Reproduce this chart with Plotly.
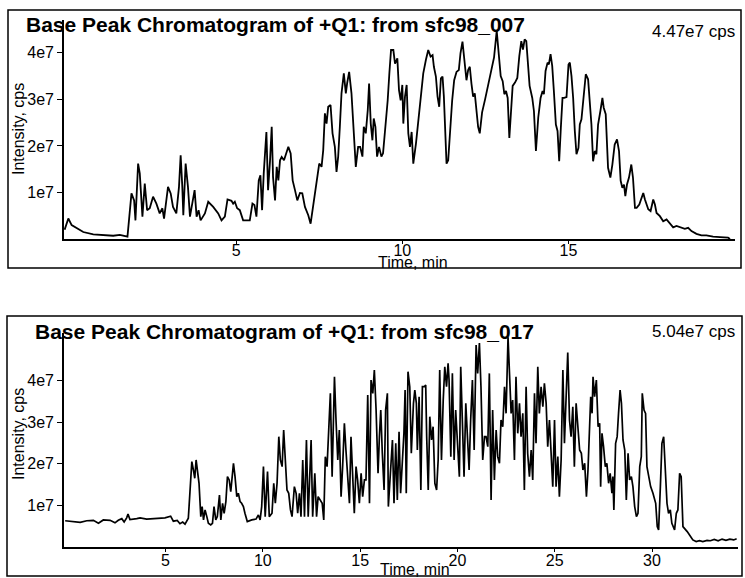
import plotly.graph_objects as go

# ---------------- data (time in min, intensity in units of 1e7 cps) ----------------
top_time = [-0.16,-0.05,0.05,0.15,0.4,0.7,1.0,1.3,1.5,1.7,1.73,1.85,1.93,1.97,2.05,2.1,2.18,2.25,2.32,2.4,2.5,2.6,2.7,2.78,2.83,2.95,3.03,3.1,3.2,3.28,3.33,3.38,3.41,3.48,3.55,3.61,3.69,3.75,3.81,3.87,3.93,4.0,4.06,4.16,4.31,4.46,4.56,4.66,4.74,4.86,4.91,4.96,5.03,5.11,5.21,5.41,5.49,5.55,5.61,5.68,5.73,5.78,5.83,5.91,5.96,6.02,6.07,6.11,6.17,6.22,6.27,6.32,6.37,6.44,6.5,6.57,6.64,6.7,6.77,6.84,6.92,6.99,7.07,7.17,7.24,7.32,7.37,7.44,7.5,7.57,7.62,7.67,7.72,7.77,7.84,7.9,7.97,8.02,8.07,8.12,8.17,8.24,8.3,8.34,8.4,8.47,8.54,8.6,8.67,8.73,8.8,8.84,8.9,8.96,9.0,9.05,9.1,9.14,9.19,9.24,9.3,9.37,9.42,9.5,9.56,9.61,9.66,9.73,9.78,9.81,9.85,9.9,9.95,10.0,10.03,10.08,10.13,10.18,10.23,10.28,10.33,10.41,10.48,10.56,10.63,10.71,10.78,10.85,10.91,10.95,11.01,11.06,11.11,11.16,11.21,11.25,11.3,11.33,11.38,11.43,11.5,11.56,11.63,11.7,11.75,11.81,11.86,11.93,11.98,12.03,12.08,12.13,12.18,12.23,12.28,12.33,12.4,12.49,12.59,12.69,12.76,12.84,12.89,12.96,13.02,13.07,13.12,13.17,13.22,13.27,13.32,13.39,13.46,13.52,13.58,13.63,13.68,13.73,13.78,13.83,13.91,13.96,14.02,14.09,14.16,14.22,14.26,14.31,14.37,14.41,14.46,14.51,14.56,14.62,14.67,14.72,14.77,14.82,14.87,14.94,15.0,15.04,15.09,15.14,15.19,15.24,15.3,15.34,15.39,15.45,15.52,15.59,15.64,15.69,15.74,15.79,15.84,15.89,15.96,16.02,16.06,16.12,16.19,16.26,16.32,16.39,16.46,16.52,16.57,16.62,16.67,16.71,16.76,16.82,16.89,16.94,17.0,17.05,17.13,17.2,17.25,17.3,17.4,17.47,17.55,17.6,17.65,17.75,17.85,17.95,18.03,18.15,18.25,18.4,18.5,18.6,18.7,18.85,19.0,19.15,19.35,19.56,19.8,19.86]
top_int = [0.20,0.44,0.30,0.26,0.15,0.10,0.08,0.07,0.09,0.06,0.05,0.98,0.83,0.40,1.62,1.41,0.48,1.19,0.62,0.66,0.91,0.76,0.55,0.66,0.44,1.12,0.98,0.69,0.55,1.12,1.80,1.12,0.51,1.62,1.12,0.48,0.76,1.05,0.48,0.62,0.40,0.48,0.55,0.80,0.69,0.55,0.40,0.48,0.85,0.82,0.76,0.80,0.66,0.62,0.40,0.40,0.76,0.73,0.48,1.26,1.37,0.62,1.41,2.30,1.05,1.69,2.41,1.33,0.83,1.55,1.26,1.69,1.76,1.69,1.83,1.98,1.84,1.26,1.05,0.83,0.99,0.98,0.69,0.51,0.33,0.76,0.98,1.33,1.62,1.55,1.91,2.70,2.48,2.84,2.88,2.27,1.98,1.44,1.77,2.41,3.13,3.56,3.13,3.35,3.59,3.13,2.34,1.55,1.98,1.98,1.77,2.41,2.27,2.77,3.34,2.48,2.12,2.59,2.41,1.77,1.98,1.77,1.84,2.41,2.98,3.56,4.06,4.06,3.77,3.81,3.88,3.2,2.98,3.31,2.48,3.06,3.31,2.27,1.98,2.30,1.62,2.05,2.56,3.13,3.56,3.85,4.06,3.92,3.95,3.70,3.49,3.06,2.84,3.45,3.49,3.06,2.27,1.62,1.69,2.27,2.98,3.41,3.59,3.63,3.99,4.24,3.85,3.41,3.63,3.70,3.34,3.06,3.13,2.70,2.41,2.27,2.72,3.0,3.36,3.73,3.9,4.47,4.1,3.5,3.39,3.11,3.18,3.03,2.17,2.68,3.29,3.36,3.46,3.93,4.25,4.07,4.29,4.25,3.75,3.29,3.03,2.75,1.89,2.61,3.03,3.18,3.11,3.61,3.79,3.75,3.97,3.72,3.18,2.46,2.32,1.67,2.39,3.03,3.03,3.05,3.75,3.79,3.5,3.03,2.32,1.82,1.96,2.46,2.57,3.03,3.54,3.43,3.03,2.46,1.67,1.89,1.82,2.46,2.75,3.03,2.82,2.68,1.53,1.32,1.6,2.03,2.14,1.89,1.25,1.1,1.17,0.92,1.17,1.32,1.6,1.32,0.67,0.67,0.74,0.92,0.99,0.85,0.64,0.6,0.85,0.74,0.56,0.49,0.38,0.42,0.35,0.25,0.28,0.25,0.22,0.24,0.17,0.11,0.08,0.08,0.05,0.04,0.03,0.0]

bot_time = [-0.16,0.18,0.61,0.95,1.29,1.55,1.8,2.15,2.4,2.57,2.75,2.87,3.0,3.07,3.17,3.52,3.69,4.03,4.55,4.97,5.26,5.4,5.6,5.74,5.88,6.0,6.17,
            6.26,6.35,6.43,6.5,6.57,6.64,6.72,6.81,6.88,6.95,7.03,7.12,7.2,7.32,7.41,7.49,7.58,7.66,7.77,7.84,7.93,8.01,8.1,8.18,8.27,8.35,8.44,8.49,8.57,8.66,8.74,8.83,8.91,9.0,9.08,9.2,9.43,9.65,9.77,9.86,9.94,10.03,10.12,10.24,10.33,
            10.47,10.56,10.64,10.73,10.82,10.9,10.99,11.07,11.16,11.24,11.33,11.42,11.5,11.62,11.71,11.79,11.88,11.96,12.05,12.14,12.24,12.33,12.48,12.56,12.67,12.76,12.84,12.96,13.05,13.13,13.21,13.3,13.39,13.47,13.56,13.68,13.76,13.85,13.93,14.02,14.1,14.19,14.27,14.36,14.45,14.53,14.62,14.7,14.79,14.87,14.96,15.05,15.13,15.22,15.3,15.39,15.48,15.56,15.65,
            15.73,15.82,15.92,15.99,16.06,16.14,16.23,16.31,16.4,16.45,16.57,16.66,16.74,16.83,16.91,17.0,17.08,17.17,17.25,17.31,17.37,17.46,17.55,17.63,17.74,17.81,17.89,17.94,18.03,18.12,18.2,18.29,18.37,18.42,18.5,18.58,18.67,18.75,18.84,18.93,19.01,19.09,19.18,19.27,19.35,19.44,19.52,19.57,19.66,19.74,19.83,19.91,20.0,20.1,20.17,20.26,20.34,20.43,20.51,20.6,20.68,20.77,20.86,
            20.96,21.04,21.13,21.21,21.3,21.39,21.47,21.56,21.64,21.73,21.81,21.9,21.99,22.07,22.16,22.24,22.33,22.42,22.5,22.6,22.67,22.76,22.84,22.93,23.01,23.1,23.19,23.27,23.36,23.44,23.53,23.61,23.7,23.79,23.87,23.96,24.04,24.13,24.21,24.3,24.39,24.47,24.56,24.64,24.73,24.81,24.9,24.99,25.07,25.16,25.24,25.33,25.42,25.5,25.59,25.67,25.76,25.84,25.93,26.01,26.1,
            26.2,26.28,26.37,26.45,26.54,26.59,26.63,26.71,26.8,26.85,26.92,26.97,27.05,27.14,27.23,27.31,27.36,27.43,27.51,27.6,27.68,27.77,27.85,27.94,27.99,28.04,28.13,28.21,28.28,28.36,28.43,28.51,28.6,28.68,28.77,28.85,28.94,29.02,29.11,29.2,29.28,29.37,29.45,29.5,29.59,29.67,29.74,29.83,29.93,30.05,30.19,30.27,30.34,30.43,30.51,30.6,30.68,30.77,30.85,30.94,31.02,31.16,31.25,31.33,31.42,31.5,31.59,31.68,31.81,31.93,32.1,32.27,32.44,32.61,32.83,33.0,33.2,33.4,33.6,33.8,34.0,34.2,34.35]
bot_int = [0.63,0.61,0.59,0.63,0.64,0.57,0.65,0.64,0.58,0.64,0.68,0.6,0.70,0.79,0.66,0.68,0.70,0.67,0.68,0.70,0.74,0.62,0.64,0.56,0.6,0.55,0.69,
           1.29,2.05,1.85,1.65,2.09,1.77,1.53,0.73,0.97,0.65,0.89,0.73,0.57,0.53,0.57,0.97,0.65,0.73,1.25,0.65,1.05,0.81,1.09,1.69,1.61,1.33,1.81,2.01,1.69,1.21,1.29,1.09,1.05,0.97,0.81,0.61,0.65,0.67,0.77,0.65,0.97,1.93,0.73,1.81,0.73,
           0.81,1.53,1.05,1.53,2.65,2.09,1.93,2.81,2.17,1.37,1.29,0.89,0.73,1.45,1.29,0.81,1.29,0.73,2.09,0.73,2.57,0.73,2.57,0.73,1.77,0.73,1.21,1.13,1.05,0.65,2.17,1.93,2.73,3.69,1.69,4.09,3.05,2.09,2.81,1.21,1.93,2.97,2.33,1.61,1.05,2.65,1.77,0.81,1.93,1.61,1.05,1.77,1.21,1.61,1.61,3.65,1.05,4.01,3.69,
           4.25,3.29,1.77,2.65,3.29,2.25,1.37,3.29,3.69,0.97,1.85,2.57,1.05,2.49,1.13,2.77,1.29,2.09,2.73,3.77,1.29,4.21,3.85,2.25,3.45,3.77,3.45,2.33,3.61,1.37,3.85,3.85,3.89,2.65,1.37,3.13,2.57,2.89,1.53,1.37,2.09,4.25,2.09,3.53,4.33,3.85,4.41,4.01,2.17,4.17,2.09,3.29,2.49,1.69,4.33,2.57,1.69,3.45,2.57,1.85,3.05,4.01,2.33,
           4.85,4.17,4.9,3.85,2.09,2.65,2.65,2.41,4.17,1.13,3.29,1.61,2.81,2.17,2.01,3.05,2.89,3.85,3.21,5.04,4.09,3.21,3.53,2.09,4.09,2.73,3.45,2.65,3.21,1.37,3.85,2.25,1.69,2.33,1.61,3.69,2.49,4.33,3.21,3.85,3.37,3.93,3.45,2.41,3.05,2.09,1.45,3.05,1.45,2.17,1.21,2.09,4.25,2.49,3.53,4.67,3.05,2.65,3.37,1.93,3.45,
           2.73,2.33,2.25,1.85,2.01,1.45,1.21,1.85,2.89,3.61,3.21,4.09,3.61,4.01,2.89,2.97,1.45,2.73,2.41,1.93,2.01,1.53,1.77,1.29,1.69,0.89,2.49,2.65,3.21,3.77,3.45,2.57,2.33,1.13,2.25,1.61,1.69,1.45,0.97,0.73,0.81,1.93,2.17,3.69,3.29,3.21,1.93,1.69,1.45,1.29,1.05,0.49,0.41,1.45,2.49,2.65,1.85,1.05,0.81,0.89,0.57,0.41,0.81,0.89,1.77,1.69,0.49,0.45,0.37,0.29,0.17,0.13,0.15,0.13,0.16,0.15,0.18,0.15,0.19,0.16,0.19,0.17,0.2]

top_xticks = [5, 10, 15]
bot_xticks = [5, 10, 15, 20, 25, 30]
y_tickvals = [1e7, 2e7, 3e7, 4e7]
y_ticktext = ["1e7", "2e7", "3e7", "4e7"]
titles = ["Base Peak Chromatogram of +Q1: from sfc98_007", "Base Peak Chromatogram of +Q1: from sfc98_017"]
max_labels = ["4.47e7 cps", "5.04e7 cps"]

# ---------------- figure ----------------
W, H = 745, 578
FONT = "Arial, 'Liberation Sans', sans-serif"

def px_x(p):
    return p / W

def px_y(p):
    return 1 - p / H

fig = go.Figure()
fig.add_trace(go.Scatter(x=top_time, y=[v * 1e7 for v in top_int], mode="lines",
                         line=dict(color="black", width=1.8), xaxis="x", yaxis="y",
                         hoverinfo="skip"))
fig.add_trace(go.Scatter(x=bot_time, y=[v * 1e7 for v in bot_int], mode="lines",
                         line=dict(color="black", width=1.7), xaxis="x2", yaxis="y2",
                         hoverinfo="skip"))

axis_common = dict(showline=True, linecolor="black", linewidth=1.6, ticks="outside",
                   tickcolor="black", tickwidth=1.3, showgrid=False, zeroline=False,
                   tickfont=dict(family=FONT, size=16, color="black"))

fig.update_layout(
    width=W, height=H, margin=dict(l=0, r=0, t=0, b=0),
    paper_bgcolor="white", plot_bgcolor="white", showlegend=False,
    xaxis=dict(domain=[px_x(64), px_x(735)], anchor="y", range=[-0.18, 20.01],
               tickvals=top_xticks, ticklen=3, ticklabelstandoff=-7, **axis_common),
    yaxis=dict(domain=[px_y(239), px_y(20)], anchor="x", range=[0, 4.705e7],
               tickvals=y_tickvals, ticktext=y_ticktext, ticklen=5, **axis_common),
    xaxis2=dict(domain=[px_x(64), px_x(738)], anchor="y2", range=[-0.22, 34.42],
                tickvals=bot_xticks, ticklen=3, ticklabelstandoff=-5, **axis_common),
    yaxis2=dict(domain=[px_y(547), px_y(333)], anchor="x2", range=[0, 5.14e7],
                tickvals=y_tickvals, ticktext=y_ticktext, ticklen=5, **axis_common),
)

shapes = [
    dict(type="rect", xref="paper", yref="paper", x0=px_x(8), x1=px_x(741), y0=px_y(268), y1=px_y(10),
         line=dict(color="black", width=1.5)),
    dict(type="rect", xref="paper", yref="paper", x0=px_x(7), x1=px_x(742), y0=px_y(576), y1=px_y(316),
         line=dict(color="black", width=1.5)),
]
fig.update_layout(shapes=shapes)

ann = []
# panel titles
for txt, xl, yc in [(titles[0], 24, 25), (titles[1], 33, 331)]:
    ann.append(dict(text="<b>" + txt + "</b>", xref="paper", yref="paper", x=px_x(xl), y=px_y(yc),
                    xanchor="left", yanchor="middle", showarrow=False,
                    font=dict(family=FONT, size=21, color="black")))
for txt, yc in [(max_labels[0], 31), (max_labels[1], 331)]:
    ann.append(dict(text=txt, xref="paper", yref="paper", x=px_x(737), y=px_y(yc),
                    xanchor="right", yanchor="middle", showarrow=False,
                    font=dict(family=FONT, size=17, color="black")))
# axis titles
for yc in [129, 434]:
    ann.append(dict(text="Intensity, cps", xref="paper", yref="paper", x=px_x(18), y=px_y(yc),
                    xanchor="center", yanchor="middle", textangle=-90, showarrow=False,
                    font=dict(family=FONT, size=16, color="black")))
for xc, yc in [(413, 262), (415, 569)]:
    ann.append(dict(text="Time, min", xref="paper", yref="paper", x=px_x(xc), y=px_y(yc),
                    xanchor="center", yanchor="middle", showarrow=False,
                    font=dict(family=FONT, size=16, color="black")))
fig.update_layout(annotations=ann)

fig.write_html("out.html")
